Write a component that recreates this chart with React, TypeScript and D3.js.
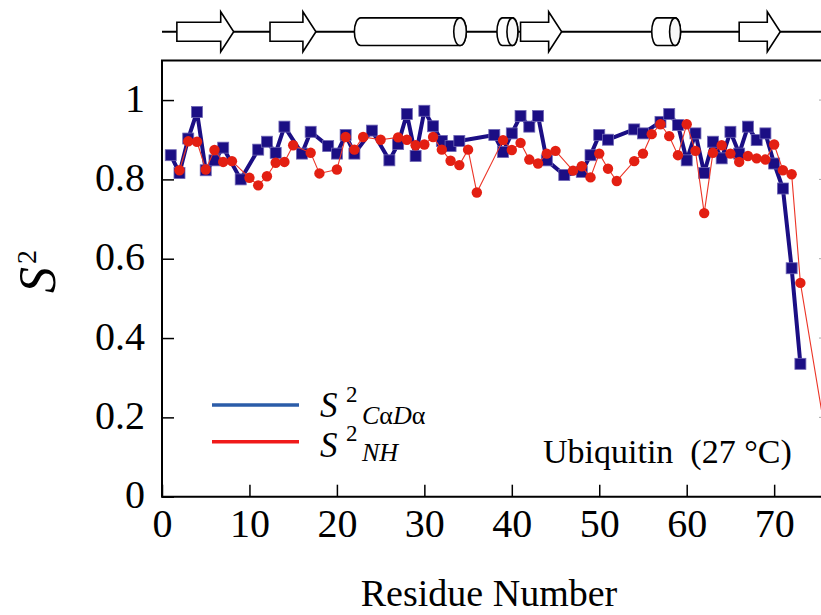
import React, { useEffect, useRef } from "react";
import * as d3 from "d3";

// S2 CaDa (blue squares)
const residuesCaDa = [1, 2, 3, 4, 5, 6, 7, 9, 11, 12, 13, 14, 16, 17, 19, 20, 21, 22, 24, 26, 27, 28, 29, 30, 31, 32, 33, 34, 38, 39, 40, 41, 42, 43, 44, 46, 48, 49, 50, 51, 54, 55, 57, 58, 59, 60, 61, 62, 63, 64, 65, 66, 67, 68, 69, 70, 71, 72, 73];
const s2CaDa = [0.861, 0.816, 0.903, 0.97, 0.823, 0.848, 0.88, 0.8, 0.875, 0.895, 0.867, 0.933, 0.865, 0.92, 0.884, 0.865, 0.912, 0.865, 0.923, 0.848, 0.889, 0.965, 0.859, 0.973, 0.934, 0.897, 0.884, 0.897, 0.912, 0.869, 0.916, 0.96, 0.933, 0.96, 0.848, 0.811, 0.819, 0.861, 0.912, 0.9, 0.926, 0.916, 0.945, 0.965, 0.937, 0.848, 0.916, 0.816, 0.895, 0.853, 0.92, 0.865, 0.933, 0.899, 0.916, 0.84, 0.777, 0.576, 0.335];

// S2 NH (red circles)
const residuesNH = [2, 3, 4, 5, 6, 7, 8, 10, 11, 12, 13, 14, 15, 17, 18, 20, 21, 22, 23, 25, 27, 28, 29, 30, 31, 32, 33, 34, 35, 36, 39, 40, 41, 42, 43, 44, 45, 47, 48, 49, 50, 51, 52, 54, 55, 56, 57, 58, 59, 60, 61, 62, 63, 64, 65, 66, 67, 68, 69, 70, 71, 72, 73, 76];
const s2NH = [0.823, 0.896, 0.895, 0.825, 0.874, 0.844, 0.846, 0.804, 0.785, 0.808, 0.842, 0.844, 0.886, 0.867, 0.815, 0.825, 0.907, 0.875, 0.907, 0.9, 0.906, 0.9, 0.886, 0.888, 0.907, 0.875, 0.847, 0.836, 0.875, 0.767, 0.899, 0.874, 0.892, 0.85, 0.84, 0.865, 0.872, 0.822, 0.833, 0.805, 0.865, 0.827, 0.796, 0.846, 0.865, 0.914, 0.939, 0.909, 0.861, 0.939, 0.872, 0.715, 0.867, 0.886, 0.865, 0.844, 0.859, 0.853, 0.85, 0.888, 0.823, 0.813, 0.539, 0.14];

// secondary structure (residue ranges)
const strandStart = [1.7, 12.35, 41, 66];
const strandEnd = [8.2, 17.6, 45.7, 70.7];
const helixStart = [22, 38.3, 56];
const helixEnd = [34.8, 40.7, 59.3];

const xTicks = [0, 10, 20, 30, 40, 50, 60, 70];
const yTicks = [0, 0.2, 0.4, 0.6, 0.8, 1];

const serif = "'Liberation Serif', 'Times New Roman', serif";

const App = () => {
    const ref = useRef<SVGSVGElement>(null);

    useEffect(() => {
        const width = 821;
        const height = 615;
        const left = 162;
        const right = 831;
        const top = 60.4;
        const bottom = 496.7;

        const svg = d3.select(ref.current);
        svg.selectAll("*").remove();
        svg.attr("width", width).attr("height", height);

        const x = d3.scaleLinear().domain([0, 76.5]).range([left, right]);
        const y = d3.scaleLinear().domain([0, 1.1]).range([bottom, top]);

        // secondary structure bar
        const ss = svg.append("g");
        const sy = 31.7;
        ss.append("line")
            .attr("x1", left).attr("x2", width + 5)
            .attr("y1", sy).attr("y2", sy)
            .attr("stroke", "#000").attr("stroke-width", 2);

        strandStart.forEach((s, i) => {
            const x0 = x(s);
            const x1 = x(strandEnd[i]);
            const hb = x1 - 13;
            const pts: [number, number][] = [
                [x0, sy - 9.5], [hb, sy - 9.5], [hb, sy - 20], [x1, sy],
                [hb, sy + 20], [hb, sy + 9.5], [x0, sy + 9.5],
            ];
            ss.append("path")
                .attr("d", d3.line()(pts) + "Z")
                .attr("fill", "#fff").attr("stroke", "#000").attr("stroke-width", 1.6);
        });

        helixStart.forEach((s, i) => {
            const x0 = x(s);
            const x1 = x(helixEnd[i]);
            const rx = x1 - x0 > 40 ? 6.3 : 5.5;
            const ry = 13.8;
            const d = `M${x0 + rx},${sy - ry} L${x1 - rx},${sy - ry} A${rx},${ry} 0 0 1 ${x1 - rx},${sy + ry} L${x0 + rx},${sy + ry} A${rx},${ry} 0 0 1 ${x0 + rx},${sy - ry} Z`;
            ss.append("path").attr("d", d)
                .attr("fill", "#fff").attr("stroke", "#000").attr("stroke-width", 1.6);
            ss.append("ellipse")
                .attr("cx", x1 - rx).attr("cy", sy).attr("rx", rx).attr("ry", ry)
                .attr("fill", "#f8f8f8").attr("stroke", "#000").attr("stroke-width", 1.6);
        });

        // axes
        const xAxis = svg.append("g")
            .attr("transform", `translate(0,${bottom})`)
            .call(d3.axisBottom(x).tickValues(xTicks).tickSize(-12).tickSizeOuter(0).tickPadding(12).tickFormat((d) => String(d)));
        const yAxis = svg.append("g")
            .attr("transform", `translate(${left},0)`)
            .call(d3.axisLeft(y).tickValues(yTicks).tickSize(-12).tickSizeOuter(0).tickPadding(17).tickFormat((d) => String(d)));
        [xAxis, yAxis].forEach((g) => {
            g.select(".domain").remove();
            g.selectAll(".tick line").attr("stroke", "#000").attr("stroke-width", 1.5);
            g.selectAll(".tick text")
                .attr("font-family", serif).attr("font-size", 40).attr("fill", "#000");
        });
        yAxis.selectAll(".tick text").attr("dy", "0.28em");

        // mirrored ticks on the right side
        svg.append("g").selectAll("line").data(yTicks).enter().append("line")
            .attr("x1", right - 12).attr("x2", right)
            .attr("y1", (d) => y(d)).attr("y2", (d) => y(d))
            .attr("stroke", "#aaa").attr("stroke-width", 1);

        // frame
        svg.append("path")
            .attr("d", `M${right},${top} L${left},${top} L${left},${bottom} L${right},${bottom}`)
            .attr("fill", "none").attr("stroke", "#000").attr("stroke-width", 2);

        // blue series
        const blue = "#1b0e84";
        const bluePts: [number, number][] = residuesCaDa.map((r, i) => [x(r), y(s2CaDa[i])]);
        svg.append("path")
            .attr("d", d3.line()(bluePts))
            .attr("fill", "none").attr("stroke", blue).attr("stroke-width", 4)
            .attr("stroke-linejoin", "round");
        svg.append("g").selectAll("rect").data(bluePts).enter().append("rect")
            .attr("x", (d) => d[0] - 5.5).attr("y", (d) => d[1] - 5.5)
            .attr("width", 11).attr("height", 11)
            .attr("fill", blue).attr("stroke", "#6f66b5").attr("stroke-width", 0.8);

        // red series
        const red = "#e31f12";
        const redPts: [number, number][] = residuesNH.map((r, i) => [x(r), y(s2NH[i])]);
        svg.append("path")
            .attr("d", d3.line()(redPts))
            .attr("fill", "none").attr("stroke", "#ec3527").attr("stroke-width", 1.1);
        svg.append("g").selectAll("circle").data(redPts).enter().append("circle")
            .attr("cx", (d) => d[0]).attr("cy", (d) => d[1]).attr("r", 5.2)
            .attr("fill", red);

        // y label
        const yl = svg.append("text")
            .attr("transform", "translate(55,293) rotate(-90)")
            .attr("font-family", serif).attr("font-size", 52).attr("fill", "#000");
        yl.append("tspan").attr("font-style", "italic").text("S");
        yl.append("tspan").attr("font-size", 28).attr("dy", -19).attr("dx", 3).text("2");

        // x label
        svg.append("text")
            .attr("x", 489).attr("y", 606)
            .attr("text-anchor", "middle")
            .attr("font-family", serif).attr("font-size", 38).attr("fill", "#000")
            .text("Residue Number");

        // legend
        const leg = svg.append("g");
        leg.append("line").attr("x1", 212).attr("x2", 299).attr("y1", 405).attr("y2", 405)
            .attr("stroke", "#2b5ca8").attr("stroke-width", 3.5);
        leg.append("line").attr("x1", 212).attr("x2", 299).attr("y1", 441.7).attr("y2", 441.7)
            .attr("stroke", "#f01a1a").attr("stroke-width", 3.5);

        const legText = (by: number, sub: string[], subY: number, supY: number) => {
            leg.append("text").attr("x", 320).attr("y", by)
                .attr("font-family", serif).attr("font-style", "italic").attr("font-size", 35).text("S");
            leg.append("text").attr("x", 346).attr("y", supY)
                .attr("font-family", serif).attr("font-size", 23).text("2");
            const t = leg.append("text").attr("x", 362).attr("y", subY)
                .attr("font-family", serif).attr("font-size", 26);
            sub.forEach((s) => {
                t.append("tspan").attr("font-style", s === "α" ? "normal" : "italic").text(s);
            });
        };
        legText(416.7, ["C", "α", "D", "α"], 424, 401.7);
        legText(457.3, ["NH"], 460.7, 441);

        // annotation
        svg.append("text")
            .attr("x", 543).attr("y", 463.3)
            .attr("font-family", serif).attr("font-size", 34).attr("fill", "#000")
            .style("white-space", "pre")
            .text("Ubiquitin  (27 °C)");
    }, []);

    return <svg ref={ref} style={{ position: "absolute", left: 0, top: 0, background: "#fff" }} />;
};

export default App;
